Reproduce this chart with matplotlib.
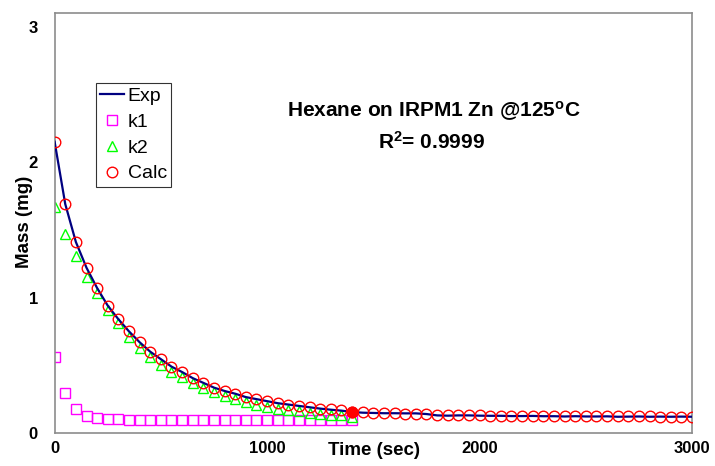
import numpy as np
import matplotlib
matplotlib.use("Agg")
import matplotlib.pyplot as plt

plt.rcParams['font.family'] = ['Liberation Sans', 'DejaVu Sans']

# time grid (sec)
time_fit = list(range(0, 1401, 50))          # k1 / k2 points
time_calc = list(range(0, 3001, 50))         # calc / exp points

k1_mass = [0.56, 0.295, 0.175, 0.125, 0.11, 0.103, 0.10, 0.098, 0.097, 0.097,
           0.097, 0.097, 0.097, 0.097, 0.097, 0.097, 0.097, 0.097, 0.097, 0.097,
           0.097, 0.097, 0.097, 0.097, 0.097, 0.097, 0.097, 0.097, 0.097]

k2_mass = [1.665, 1.47, 1.31, 1.15, 1.03, 0.91, 0.81, 0.71, 0.63, 0.56,
           0.50, 0.45, 0.41, 0.37, 0.335, 0.30, 0.275, 0.25, 0.23, 0.21,
           0.195, 0.18, 0.17, 0.16, 0.15, 0.14, 0.135, 0.13, 0.12]

calc_mass = [2.15, 1.69, 1.41, 1.22, 1.07, 0.94, 0.84, 0.75, 0.67, 0.60,
             0.545, 0.49, 0.45, 0.405, 0.37, 0.335, 0.31, 0.29, 0.265, 0.25,
             0.235, 0.22, 0.21, 0.20, 0.19, 0.18, 0.175, 0.17, 0.155,
             0.155, 0.15, 0.148, 0.145, 0.142, 0.14, 0.138, 0.135, 0.132, 0.13,
             0.13, 0.13, 0.128, 0.127, 0.126, 0.125, 0.125, 0.125, 0.124, 0.124,
             0.124, 0.123, 0.123, 0.123, 0.122, 0.122, 0.122, 0.122, 0.121, 0.121,
             0.121, 0.121]

exp_mass = [2.15, 1.69, 1.41, 1.22, 1.07, 0.94, 0.84, 0.75, 0.67, 0.60,
            0.545, 0.49, 0.45, 0.405, 0.37, 0.335, 0.31, 0.29, 0.265, 0.25,
            0.235, 0.22, 0.21, 0.20, 0.19, 0.18, 0.172, 0.165, 0.155,
            0.15, 0.148, 0.146, 0.146, 0.145, 0.145, 0.14, 0.13, 0.128, 0.13,
            0.13, 0.128, 0.127, 0.127, 0.125, 0.125, 0.126, 0.124, 0.124, 0.122,
            0.124, 0.122, 0.122, 0.123, 0.12, 0.121, 0.122, 0.12, 0.121, 0.12,
            0.121, 0.12]

highlight_time = [1400]
highlight_mass = [0.155]

fig = plt.figure(figsize=(7.15, 4.66), dpi=100)
ax = fig.add_axes([0.0764, 0.0708, 0.8916, 0.9012])

ms = 7.6
ax.plot(time_calc, exp_mass, color='#000080', lw=1.6, label='Exp', zorder=3)
ax.plot(time_fit, k1_mass, ls='none', marker='s', ms=ms, mfc='none', mec='#FF00FF',
        mew=1.0, label='k1', zorder=2)
ax.plot(time_fit, k2_mass, ls='none', marker='^', ms=ms, mfc='none', mec='#00FF00',
        mew=1.0, label='k2', zorder=2)
ax.plot(time_calc, calc_mass, ls='none', marker='o', ms=ms, mfc='none', mec='#FF0000',
        mew=1.0, label='Calc', zorder=4)
ax.plot(highlight_time, highlight_mass, ls='none', marker='o', ms=ms, color='#FF0000',
        zorder=5)

ax.set_xlim(0, 3000)
ax.set_ylim(0, 3.1)
ax.set_xticks([0, 1000, 2000, 3000])
ax.set_yticks([0, 1, 2, 3])
ax.tick_params(length=0, labelsize=12)
ax.tick_params(axis='y', pad=12)
ax.tick_params(axis='x', pad=6)
for lab in ax.get_xticklabels() + ax.get_yticklabels():
    lab.set_fontweight('bold')

for s in ax.spines.values():
    s.set_color('#8c8c8c')
    s.set_linewidth(1.2)

ax.set_ylabel('Mass (mg)', fontsize=13.5, fontweight='bold')
ax.yaxis.set_label_coords(-0.034, 0.502)
ax.set_xlabel('Time (sec)', fontsize=13.5, fontweight='bold')
ax.xaxis.set_label_coords(0.501, -0.022)

ax.text(0.595, 0.767, 'Hexane on IRPM1 Zn @125$\\mathregular{^o}$C', transform=ax.transAxes,
        ha='center', va='center', fontsize=15, fontweight='bold')
ax.text(0.592, 0.693, 'R$\\mathregular{^2}$= 0.9999', transform=ax.transAxes,
        ha='center', va='center', fontsize=15, fontweight='bold')

leg = ax.legend(loc='upper left', bbox_to_anchor=(0.065, 0.833), fontsize=14,
                frameon=True, fancybox=False, edgecolor='black', handlelength=1.2,
                handletextpad=0.2, borderpad=0.22, labelspacing=0.42, borderaxespad=0)
leg.get_frame().set_linewidth(0.8)

fig.savefig('out.png', dpi=100)
